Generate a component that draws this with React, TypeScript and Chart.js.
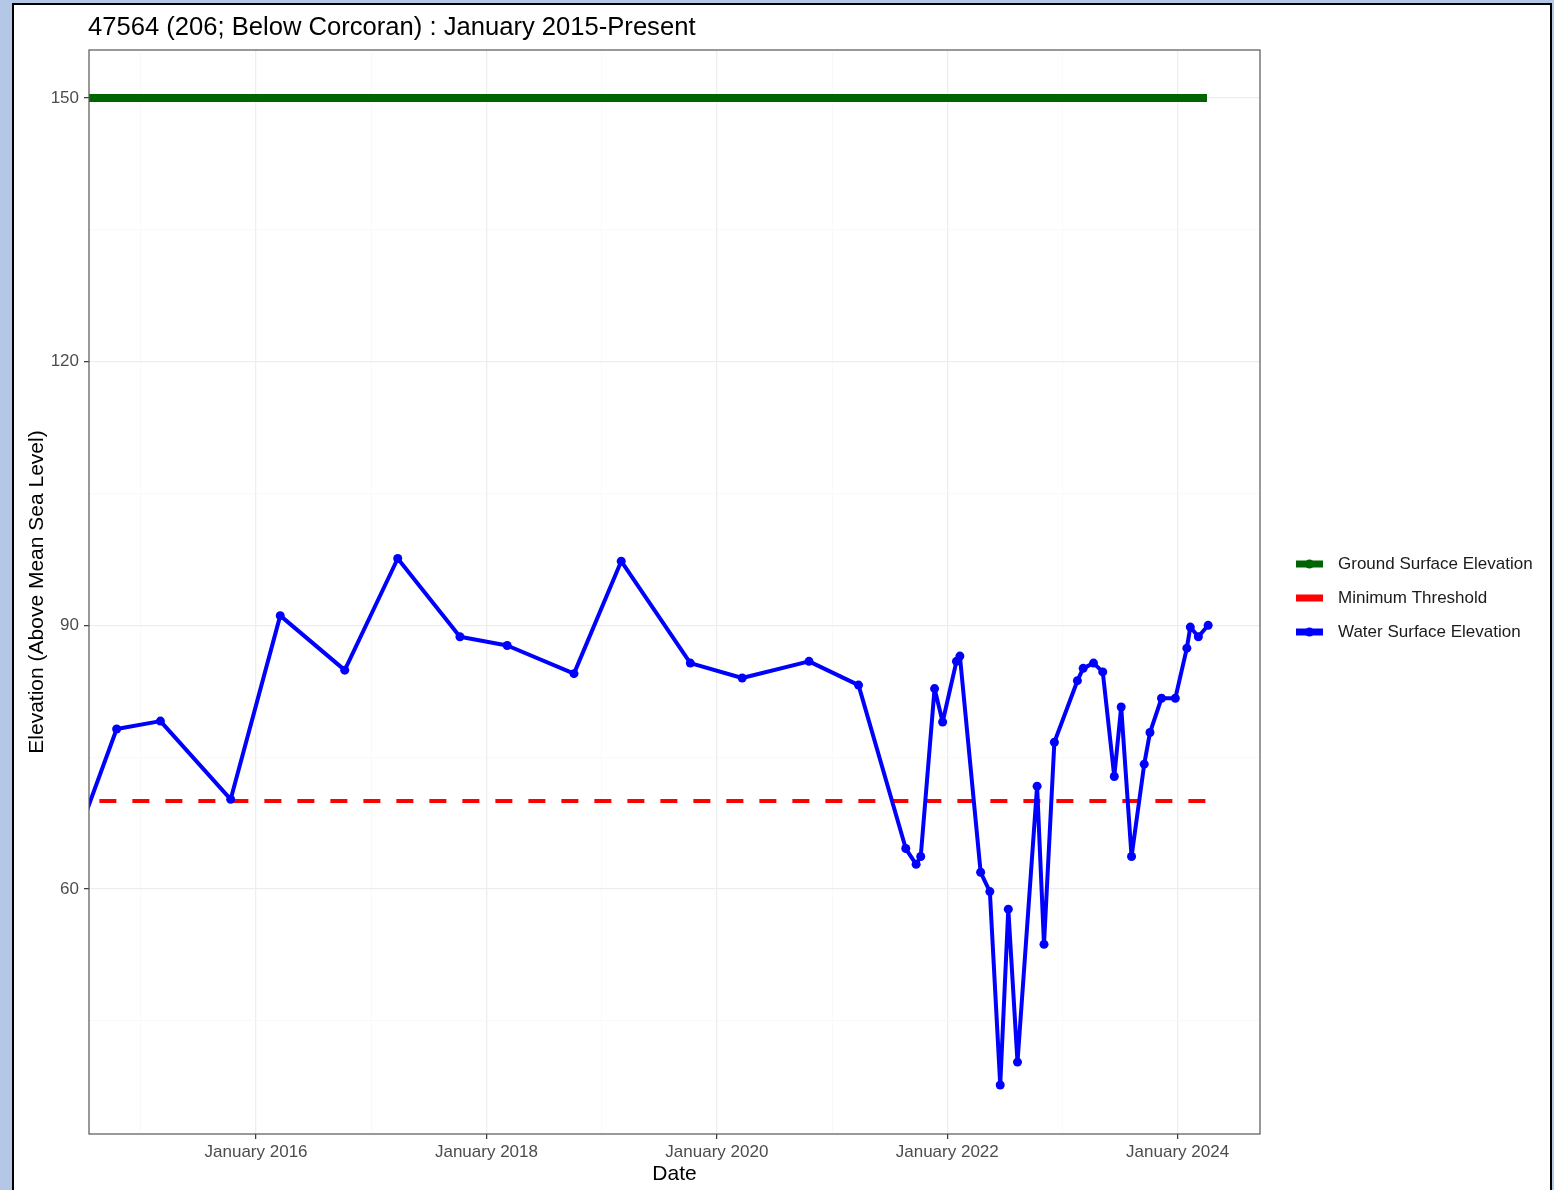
import React, { useEffect, useRef } from "react";
import { Chart, registerables } from "chart.js";

Chart.register(...registerables);

const FONT = "'Liberation Sans', Arial, Helvetica, sans-serif";

const titleText = "47564 (206; Below Corcoran) : January 2015-Present";
const xAxisTitle = "Date";
const yAxisTitle = "Elevation (Above Mean Sea Level)";
const seriesNames = ["Ground Surface Elevation", "Minimum Threshold", "Water Surface Elevation"];
const seriesColors = ["#006400", "#ff0000", "#0000ff"];

// x axis (decimal years)
const xTickYears = [2015, 2016, 2017, 2018, 2019, 2020, 2021, 2022, 2023, 2024];
const xLabelYears = [2016, 2018, 2020, 2022, 2024];
const yTickValues = [45, 60, 75, 90, 105, 120, 135, 150];
const yLabelValues = [60, 90, 120, 150];

// Ground surface elevation
const groundDates = [2014.5, 2024.255];
const groundValues = [150, 150];

// Minimum threshold
const thresholdDates = [2014.64, 2024.265];
const thresholdValues = [70, 70];

// Water surface elevation
const waterDates = [
  2014.5, 2014.79, 2015.17, 2015.78, 2016.21, 2016.77, 2017.23, 2017.77, 2018.18, 2018.76,
  2019.17, 2019.77, 2020.22, 2020.8, 2021.23, 2021.64, 2021.73, 2021.77, 2021.89, 2021.96,
  2022.08, 2022.11, 2022.29, 2022.37, 2022.46, 2022.53, 2022.61, 2022.78, 2022.84, 2022.93,
  2023.13, 2023.18, 2023.27, 2023.35, 2023.45, 2023.51, 2023.6, 2023.71, 2023.76, 2023.86,
  2023.98, 2024.08, 2024.11, 2024.18, 2024.265,
];
const waterValues = [
  67.8, 78.2, 79.1, 70.2, 91.1, 84.9, 97.6, 88.7, 87.7, 84.5,
  97.3, 85.7, 84.0, 85.9, 83.2, 64.6, 62.8, 63.7, 82.8, 79.0,
  85.9, 86.5, 61.9, 59.7, 37.7, 57.7, 40.3, 71.7, 53.7, 76.7,
  83.7, 85.1, 85.7, 84.7, 72.8, 80.7, 63.7, 74.2, 77.8, 81.7,
  81.7, 87.4, 89.8, 88.7, 90.0,
];

const toPoints = (xs: number[], ys: number[]) => xs.map((x, i) => ({ x, y: ys[i] }));

const decorPlugin = {
  id: "decor",
  beforeDraw(chart: any) {
    const ctx = chart.ctx;
    ctx.save();
    ctx.fillStyle = "#b4c7e7";
    ctx.fillRect(0, 0, chart.width, chart.height);
    ctx.fillStyle = "#ffffff";
    ctx.fillRect(14, 5, 1536, 1200);
    ctx.strokeStyle = "#000000";
    ctx.lineWidth = 2;
    ctx.strokeRect(13, 4, 1538, 1220);
    ctx.restore();
  },
  afterDraw(chart: any) {
    const ctx = chart.ctx;
    const a = chart.chartArea;
    ctx.save();
    // panel border
    ctx.strokeStyle = "#555555";
    ctx.lineWidth = 1.2;
    ctx.strokeRect(a.left, a.top, a.right - a.left, a.bottom - a.top);

    // title
    ctx.fillStyle = "#000000";
    ctx.font = `25.6px ${FONT}`;
    ctx.textAlign = "left";
    ctx.textBaseline = "alphabetic";
    ctx.fillText(titleText, 88, 35);

    // x axis title
    ctx.font = `21px ${FONT}`;
    ctx.textAlign = "center";
    ctx.fillText(xAxisTitle, (a.left + a.right) / 2, 1180);

    // y axis title
    ctx.save();
    ctx.translate(42.5, (a.top + a.bottom) / 2);
    ctx.rotate(-Math.PI / 2);
    ctx.textAlign = "center";
    ctx.textBaseline = "alphabetic";
    ctx.fillText(yAxisTitle, 0, 0);
    ctx.restore();

    // legend
    const legendY = [564, 598, 632];
    seriesNames.forEach((name, i) => {
      const y = legendY[i];
      ctx.strokeStyle = seriesColors[i];
      ctx.lineWidth = 7;
      ctx.lineCap = "butt";
      ctx.beginPath();
      ctx.moveTo(1296, y);
      ctx.lineTo(1323, y);
      ctx.stroke();
      if (i !== 1) {
        ctx.fillStyle = seriesColors[i];
        ctx.beginPath();
        ctx.arc(1309.5, y, 4.5, 0, Math.PI * 2);
        ctx.fill();
      }
      ctx.fillStyle = "#1a1a1a";
      ctx.font = `17px ${FONT}`;
      ctx.textAlign = "left";
      ctx.textBaseline = "middle";
      ctx.fillText(name, 1338, y);
    });
    ctx.restore();
  },
};

export default function App() {
  const canvasRef = useRef<HTMLCanvasElement | null>(null);

  useEffect(() => {
    const canvas = canvasRef.current;
    if (!canvas) return;
    const chart = new Chart(canvas, {
      type: "line",
      data: {
        datasets: [
          {
            label: seriesNames[2],
            data: toPoints(waterDates, waterValues),
            borderColor: seriesColors[2],
            backgroundColor: seriesColors[2],
            borderWidth: 4,
            pointRadius: 4.5,
            pointBorderWidth: 0,
            pointBackgroundColor: seriesColors[2],
            borderJoinStyle: "round",
            tension: 0,
            clip: 0,
          },
          {
            label: seriesNames[1],
            data: toPoints(thresholdDates, thresholdValues),
            borderColor: seriesColors[1],
            borderWidth: 4,
            borderDash: [17, 16],
            borderCapStyle: "butt",
            pointRadius: 0,
            clip: 0,
          },
          {
            label: seriesNames[0],
            data: toPoints(groundDates, groundValues),
            borderColor: seriesColors[0],
            borderWidth: 8,
            borderCapStyle: "butt",
            pointRadius: 0,
            clip: 0,
          },
        ],
      },
      options: {
        responsive: false,
        animation: false,
        events: [],
        layout: { padding: { left: 20, top: 50, right: 294, bottom: 0 } },
        plugins: {
          legend: { display: false },
          title: { display: false },
          tooltip: { enabled: false },
        },
        scales: {
          x: {
            type: "linear",
            min: 2014.55,
            max: 2024.715,
            afterBuildTicks: (scale: any) => {
              scale.ticks = xTickYears.map((v) => ({ value: v }));
            },
            afterFit: (scale: any) => {
              scale.height = 56;
            },
            border: { display: false },
            grid: {
              color: (c: any) => (xLabelYears.includes(c.tick?.value) ? "#eeeeee" : "#f7f7f7"),
              lineWidth: (c: any) => (xLabelYears.includes(c.tick?.value) ? 1.3 : 0.8),
              tickColor: (c: any) => (xLabelYears.includes(c.tick?.value) ? "#333333" : "rgba(0,0,0,0)"),
              tickLength: 5,
              tickWidth: 1.2,
            },
            ticks: {
              autoSkip: false,
              maxRotation: 0,
              padding: 3,
              color: "#4d4d4d",
              font: { family: FONT, size: 17 },
              callback: (v: any) => (xLabelYears.includes(Number(v)) ? `January ${v}` : ""),
            },
          },
          y: {
            type: "linear",
            min: 32.12,
            max: 155.46,
            afterBuildTicks: (scale: any) => {
              scale.ticks = yTickValues.map((v) => ({ value: v }));
            },
            afterFit: (scale: any) => {
              scale.width = 69;
            },
            border: { display: false },
            grid: {
              color: (c: any) => (yLabelValues.includes(c.tick?.value) ? "#eeeeee" : "#f7f7f7"),
              lineWidth: (c: any) => (yLabelValues.includes(c.tick?.value) ? 1.3 : 0.8),
              tickColor: (c: any) => (yLabelValues.includes(c.tick?.value) ? "#333333" : "rgba(0,0,0,0)"),
              tickLength: 5,
              tickWidth: 1.2,
            },
            ticks: {
              autoSkip: false,
              padding: 5,
              color: "#4d4d4d",
              font: { family: FONT, size: 17 },
              callback: (v: any) => (yLabelValues.includes(Number(v)) ? String(v) : ""),
            },
          },
        },
      },
      plugins: [decorPlugin],
    } as any);
    return () => chart.destroy();
  }, []);

  return (
    <div style={{ position: "absolute", left: 0, top: 0, width: 1554, height: 1190, overflow: "hidden" }}>
      <canvas ref={canvasRef} width={1554} height={1190} style={{ display: "block", width: 1554, height: 1190 }} />
    </div>
  );
}
